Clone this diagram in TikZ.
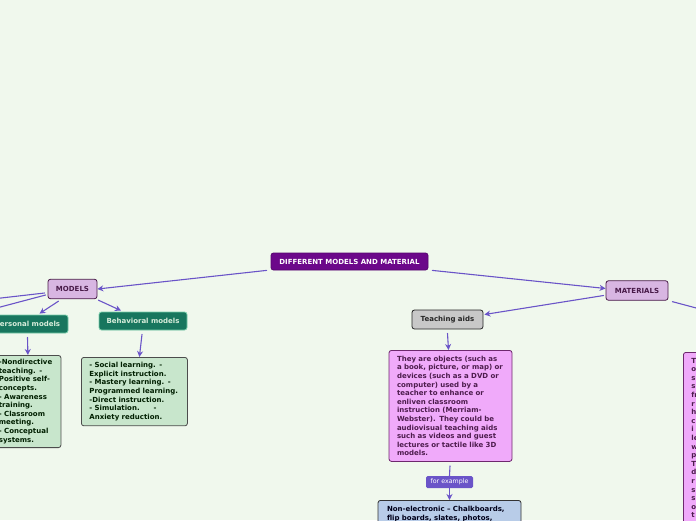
\documentclass[tikz,border=0pt]{standalone}
\usepackage{fontspec}
\setmainfont{DejaVu Sans}
\usetikzlibrary{arrows.meta}
\definecolor{bgcol}{RGB}{240,248,237}
\definecolor{rootcol}{RGB}{108,8,138}
\definecolor{topicfill}{RGB}{216,182,226}
\definecolor{topicline}{RGB}{72,26,72}
\definecolor{greenhead}{RGB}{24,118,94}
\definecolor{greenline}{RGB}{120,205,170}
\definecolor{greenbox}{RGB}{200,230,204}
\definecolor{pinkbox}{RGB}{240,170,250}
\definecolor{pinkline}{RGB}{110,40,110}
\definecolor{bluebox}{RGB}{184,204,232}
\definecolor{graybox}{RGB}{200,200,200}
\definecolor{linkcol}{RGB}{106,84,200}
\tikzset{
  basebox/.style={rounded corners=2.5pt,line width=0.8pt,font=\bfseries\fontsize{7}{8.6}\selectfont},
  rootbox/.style={basebox,fill=rootcol,draw=rootcol!80!black,text=white,minimum width=157pt,minimum height=17pt,inner sep=0pt},
  topicbox/.style={basebox,fill=topicfill,draw=topicline,text=topicline,minimum height=19.5pt,inner sep=0pt},
  headbox/.style={basebox,fill=greenhead,draw=greenline,text=greenbox!70!white,minimum height=18pt,inner sep=0pt},
  greentext/.style={basebox,fill=greenbox,draw=black!70,text=black!80!green!60!black,align=left,inner xsep=7pt,inner ysep=4pt},
  pinktext/.style={basebox,fill=pinkbox,draw=pinkline,text=pinkline!70!black,align=left,inner xsep=8pt,inner ysep=5.5pt},
  aidbox/.style={basebox,fill=graybox,draw=black!85,text=black!85,minimum width=71pt,minimum height=19pt,inner sep=0pt},
  bluetext/.style={basebox,fill=bluebox,draw=black!80,text=black!90!blue,align=left,inner xsep=9pt,inner ysep=6pt},
  tagbox/.style={rounded corners=1.5pt,fill=linkcol,text=white,font=\fontsize{6.3}{7}\selectfont,minimum width=47pt,minimum height=12pt,inner sep=0pt},
  link/.style={draw=linkcol,line width=1.1pt}
}
\begin{document}
\begin{tikzpicture}[x=1pt,y=-1pt,>={Stealth[length=6pt,width=6pt]},line join=round,line cap=round]
  \useasboundingbox (0,0) rectangle (696,520);
  \clip (0,0) rectangle (696,520);
  \fill[bgcol] (0,0) rectangle (696,520);

  % main topics
  \node[rootbox] (root) at (349.5,261.5) {DIFFERENT MODELS AND MATERIAL};
  \node[topicbox,minimum width=49pt] (models) at (72.5,289) {MODELS};
  \node[topicbox,minimum width=62pt] (materials) at (637,290.5) {MATERIALS};

  % models branch
  \node[headbox,minimum width=81pt] (personal) at (27.5,324) {Personal models};
  \node[headbox,minimum width=88pt] (behavioral) at (143,321) {Behavioral models};
  \node[greentext,text width=55pt,anchor=north west] (personaltext) at (-8.5,355)
    {\mbox{-Nondirective}\\teaching. -\\Positive self-\\concepts.\\- Awareness\\training.\\- Classroom\\meeting.\\- Conceptual\\systems.};
  \node[greentext,text width=90pt,anchor=north west,inner xsep=8pt,inner ysep=5pt] (behavioraltext) at (81,357)
    {- Social learning. -\\Explicit instruction.\\- Mastery learning. -\\Programmed learning.\\-Direct instruction.\\- Simulation.\hspace{14pt}-\\Anxiety reduction.};

  % materials branch
  \node[aidbox] (aids) at (447.5,319.5) {Teaching aids};
  \node[pinktext,text width=107pt,anchor=north] (aidstext) at (450.5,350)
    {They are objects (such as\\a book, picture, or map) or\\devices (such as a DVD or\\computer) used by a\\teacher to enhance or\\enliven classroom\\instruction (Merriam-\\Webster). They could be\\audiovisual teaching aids\\such as videos and guest\\lectures or tactile like 3D\\models.};
  \node[tagbox] (example) at (449.5,482) {for example};
  \node[bluetext,text width=125pt,anchor=north] (nonelec) at (449.5,500)
    {Non-electronic -- Chalkboards,\\flip boards, slates, photos,\\\mbox{}\\\mbox{}};
  \node[pinktext,text width=110pt,anchor=north west] (rightbox) at (683,352)
    {T\\o\\s\\s\\fr\\r\\h\\c\\i\\le\\w\\p\\T\\d\\r\\s\\s\\o\\t\\\mbox{}};

  % links
  \coordinate (offleftA) at (-60,305);
  \coordinate (offleftB) at (-60,323);
  \coordinate (offright) at (760,325);
  \draw[link,->] ([xshift=-4pt]root.south west) -- (models.east);
  \draw[link,->] ([xshift=4pt]root.south east) -- ([yshift=2pt]materials.west);
  \draw[link] ([xshift=-3pt,yshift=-4pt]models.west) -- (offleftA);
  \draw[link] ([xshift=-2pt,yshift=-6pt]models.west) -- (offleftB);
  \draw[link,->] ([xshift=-14pt,yshift=-2pt]models.south) -- ([xshift=12pt,yshift=1pt]personal.north);
  \draw[link,->] ([xshift=1pt,yshift=-1pt]models.south east) -- ([xshift=-22pt,yshift=1pt]behavioral.north);
  \draw[link,->] ([yshift=-4pt]personal.south) -- ([xshift=1.5pt]personaltext.north);
  \draw[link,->] ([xshift=-1pt,yshift=-4pt]behavioral.south) -- ([xshift=5pt]behavioraltext.north);
  \draw[link,->] ([xshift=-2pt,yshift=-5pt]materials.west) -- ([xshift=1pt,yshift=5pt]aids.east);
  \draw[link] ([xshift=4pt,yshift=-1pt]materials.south east) -- (offright);
  \draw[link,->] ([yshift=-4pt]aids.south) -- ([xshift=-2pt]aidstext.north);
  \draw[link] ([yshift=-4pt,xshift=-0.5pt]aidstext.south) -- (example.north);
  \draw[link,->] (example.south) -- (nonelec.north);
\end{tikzpicture}
\end{document}
